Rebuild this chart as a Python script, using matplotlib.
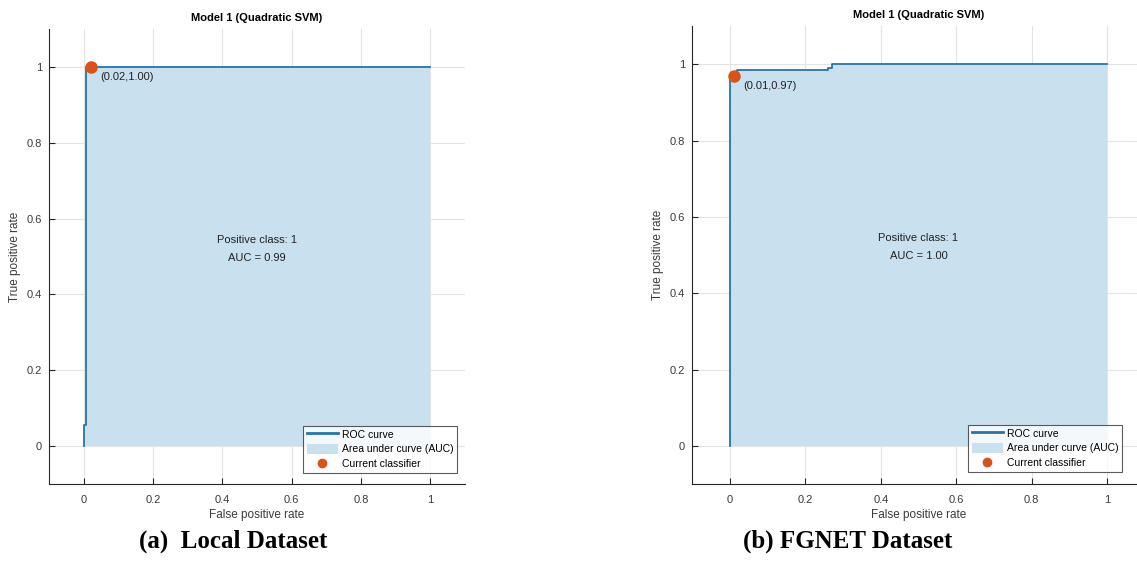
import numpy as np
import matplotlib.pyplot as plt
from matplotlib.lines import Line2D
from matplotlib.patches import Patch

# ROC data
fpr_local = [0, 0, 0.008, 1.0]
tpr_local = [0, 0.055, 1.0, 1.0]
point_local = (0.02, 1.00)
auc_local = 0.99

fpr_fgnet = [0, 0, 0.02, 0.26, 0.27, 1.0]
tpr_fgnet = [0, 0.965, 0.985, 0.99, 1.0, 1.0]
point_fgnet = (0.01, 0.97)
auc_fgnet = 1.00

ticks = [0, 0.2, 0.4, 0.6, 0.8, 1]
tick_labels = ['0', '0.2', '0.4', '0.6', '0.8', '1']

COLOR_LINE = '#2574ad'
COLOR_FILL = '#c9e1ef'
COLOR_POINT = '#d95319'
COLOR_TEXT = '#3a3a3a'

plt.rcParams['font.family'] = ['Liberation Sans', 'DejaVu Sans']


def draw_roc(ax, fpr, tpr, point, auc, xlim, legend_box):
    ax.fill_between(fpr, tpr, 0, step='post', color=COLOR_FILL, lw=0, zorder=1)
    ax.plot(fpr, tpr, drawstyle='steps-post', color=COLOR_LINE, lw=1.3, zorder=2)
    ax.plot(point[0], point[1], 'o', color=COLOR_POINT, ms=8, zorder=3)
    ax.annotate(f'({point[0]:.2f},{point[1]:.2f})', xy=point,
                xytext=(7, -4), textcoords='offset points',
                ha='left', va='top', fontsize=8, color='#222222')
    ax.text(0.5, 0.52, f'Positive class: 1\nAUC = {auc:.2f}',
            ha='center', va='center', fontsize=8, color='#222222',
            linespacing=2.0)

    ax.set_xlim(*xlim)
    ax.set_ylim(-0.1, 1.1)
    ax.set_xticks(ticks)
    ax.set_xticklabels(tick_labels)
    ax.set_yticks(ticks)
    ax.set_yticklabels(tick_labels)
    ax.grid(True, color='#e3e3e3', lw=0.8)
    ax.set_axisbelow(True)
    for s in ['top', 'right']:
        ax.spines[s].set_visible(False)
    for s in ['left', 'bottom']:
        ax.spines[s].set_color('#262626')
        ax.spines[s].set_linewidth(0.8)
    ax.tick_params(direction='in', length=4, width=0.8, labelsize=8,
                   colors='#262626', labelcolor=COLOR_TEXT)
    ax.tick_params(axis='x', pad=8)
    ax.tick_params(axis='y', pad=5)
    ax.set_xlabel('False positive rate', fontsize=8.5, color=COLOR_TEXT,
                  labelpad=3)
    ax.set_ylabel('True positive rate', fontsize=8.5, color=COLOR_TEXT,
                  labelpad=4)
    ax.set_title('Model 1 (Quadratic SVM)', fontsize=8, fontweight='bold',
                 pad=6)

    handles = [
        Line2D([], [], color=COLOR_LINE, lw=2),
        Patch(facecolor=COLOR_FILL, edgecolor='none'),
        Line2D([], [], color=COLOR_POINT, marker='o', ls='none', ms=6),
    ]
    labels = ['ROC curve', 'Area under curve (AUC)', 'Current classifier']
    leg = ax.legend(handles, labels, loc='lower left', bbox_to_anchor=legend_box,
                    bbox_transform=ax.figure.transFigure,
                    fontsize=7.5, frameon=True, fancybox=False,
                    borderpad=0.35, labelspacing=0.45, handlelength=3.0,
                    handleheight=1.0, handletextpad=0.4, borderaxespad=0)
    leg.get_frame().set_edgecolor('#333333')
    leg.get_frame().set_linewidth(0.8)


W, H = 1137, 575
fig = plt.figure(figsize=(W / 100, H / 100), dpi=100)

ax1 = fig.add_axes([49 / W, 1 - 484 / H, (465 - 49) / W, (484 - 29) / H])
draw_roc(ax1, fpr_local, tpr_local, point_local, auc_local, (-0.1, 1.1),
         (303 / W, 1 - 473 / H))

ax2 = fig.add_axes([692 / W, 1 - 484 / H, (1145 - 692) / W, (484 - 26) / H])
draw_roc(ax2, fpr_fgnet, tpr_fgnet, point_fgnet, auc_fgnet, (-0.1, 1.1),
         (968 / W, 1 - 472 / H))

fig.text(233 / W, 1 - 541 / H, '(a)  Local Dataset', ha='center', va='center',
         fontsize=18, fontweight='bold', family='Liberation Serif')
fig.text(848 / W, 1 - 541 / H, '(b) FGNET Dataset', ha='center', va='center',
         fontsize=18, fontweight='bold', family='Liberation Serif')

fig.savefig('out.png', dpi=100)
